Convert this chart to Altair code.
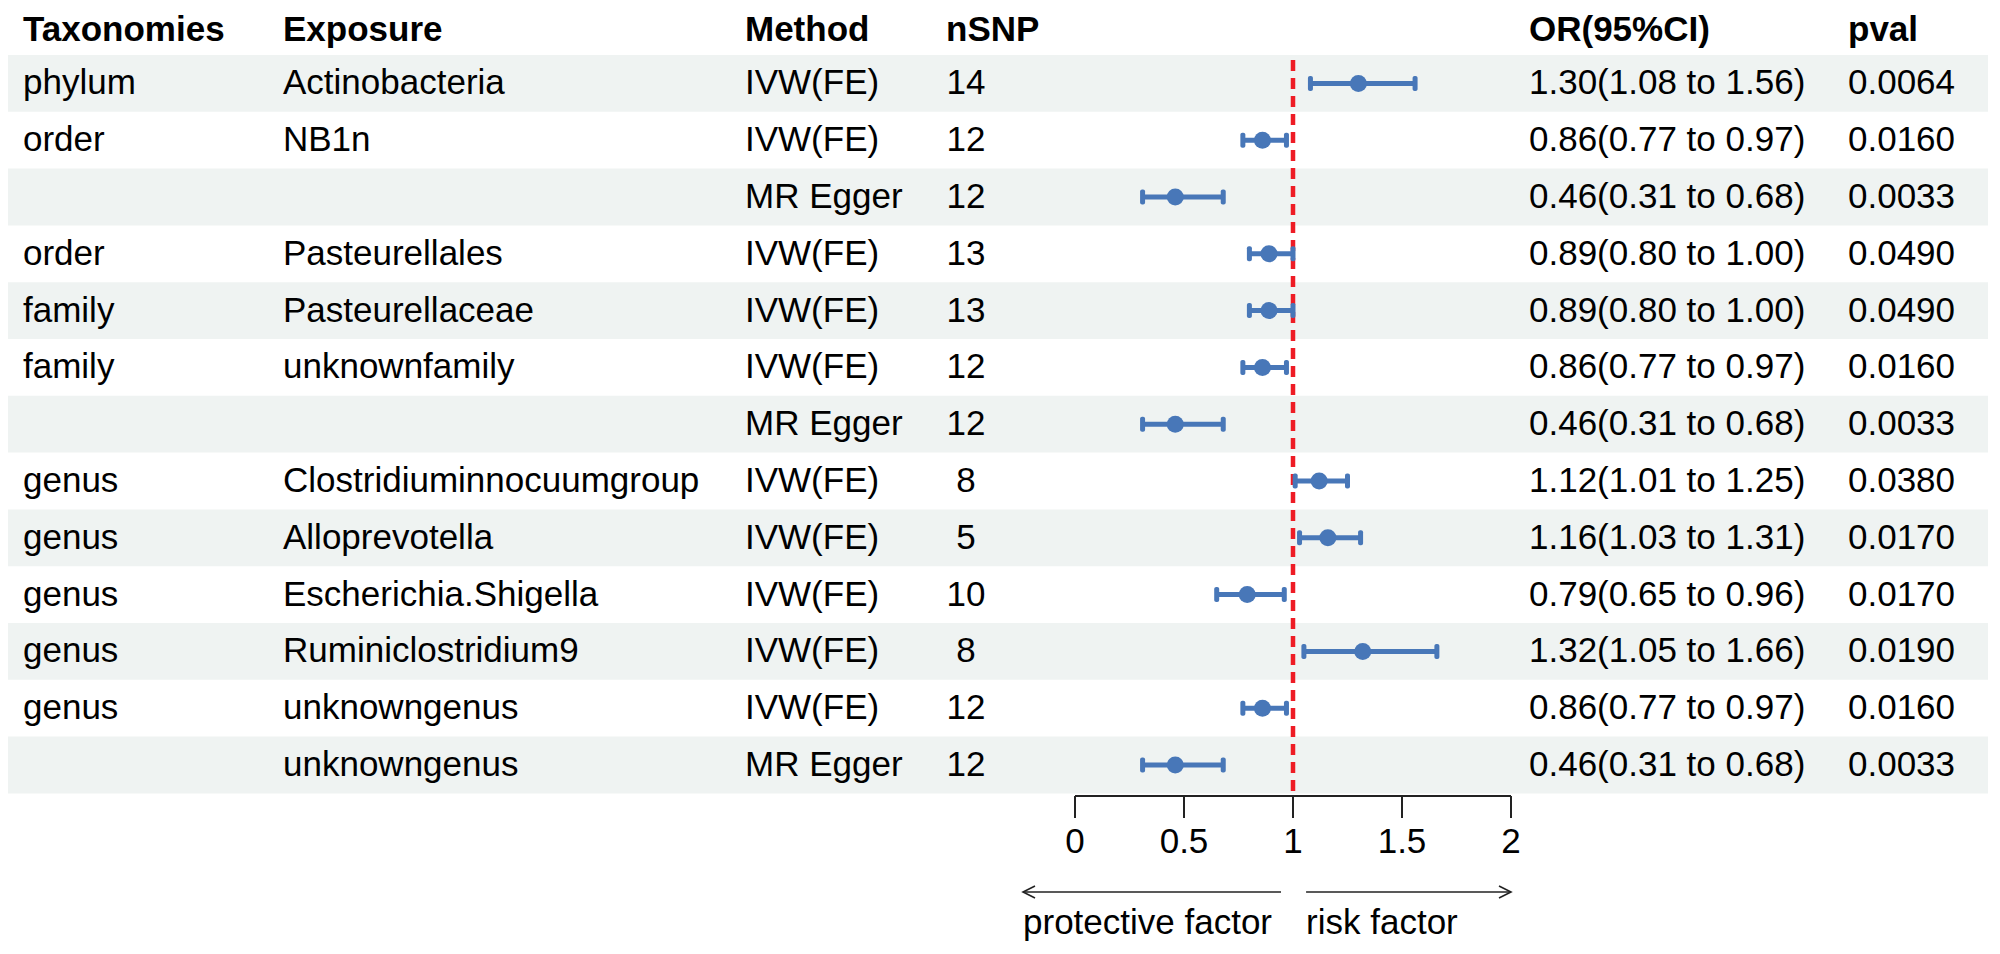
import altair as alt
import pandas as pd

# ---------------- data ----------------
taxonomies = ["phylum", "order", "", "order", "family", "family", "", "genus",
              "genus", "genus", "genus", "genus", ""]
exposures = ["Actinobacteria", "NB1n", "", "Pasteurellales", "Pasteurellaceae",
             "unknownfamily", "", "Clostridiuminnocuumgroup", "Alloprevotella",
             "Escherichia.Shigella", "Ruminiclostridium9", "unknowngenus", "unknowngenus"]
methods = ["IVW(FE)", "IVW(FE)", "MR Egger", "IVW(FE)", "IVW(FE)", "IVW(FE)",
           "MR Egger", "IVW(FE)", "IVW(FE)", "IVW(FE)", "IVW(FE)", "IVW(FE)", "MR Egger"]
nsnp = [14, 12, 12, 13, 13, 12, 12, 8, 5, 10, 8, 12, 12]
or_est = [1.30, 0.86, 0.46, 0.89, 0.89, 0.86, 0.46, 1.12, 1.16, 0.79, 1.32, 0.86, 0.46]
or_lo = [1.08, 0.77, 0.31, 0.80, 0.80, 0.77, 0.31, 1.01, 1.03, 0.65, 1.05, 0.77, 0.31]
or_hi = [1.56, 0.97, 0.68, 1.00, 1.00, 0.97, 0.68, 1.25, 1.31, 0.96, 1.66, 0.97, 0.68]
pvals = ["0.0064", "0.0160", "0.0033", "0.0490", "0.0490", "0.0160", "0.0033",
         "0.0380", "0.0170", "0.0170", "0.0190", "0.0160", "0.0033"]
headers = ["Taxonomies", "Exposure", "Method", "nSNP", "OR(95%CI)", "pval"]
tick_values = [0, 0.5, 1, 1.5, 2]
tick_labels = ["0", "0.5", "1", "1.5", "2"]
ref_value = 1.0
arrow_labels = ["protective factor", "risk factor"]

# ---------------- layout ----------------
W, H = 1980, 934
FONT = "Liberation Sans"
FS = 35
BLUE = "#4877B8"
RED = "#EE1C25"
BAND = "#eff3f2"
TOP = 47.0          # pixel top of first row
ROWH = 56.8         # pixel height of one row
X0PX, PXU = 1067.0, 218.0   # pixel of OR=0 and pixels per OR unit

XS = alt.Scale(domain=[-X0PX / PXU, (W - X0PX) / PXU], nice=False, zero=False)
YS = alt.Scale(domain=[-TOP / ROWH, (H - TOP) / ROWH], nice=False, zero=False, reverse=True)

n = len(exposures)
df = pd.DataFrame({
    "row": list(range(n)),
    "tax": taxonomies,
    "exposure": exposures,
    "method": methods,
    "nsnp": [str(v) for v in nsnp],
    "est": or_est,
    "lo": or_lo,
    "hi": or_hi,
    "ortext": [f"{e:.2f}({l:.2f} to {h:.2f})" for e, l, h in zip(or_est, or_lo, or_hi)],
    "pval": pvals,
})
df["r"] = df["row"] + 0.5
df["r0"] = df["row"]
df["r1"] = df["row"] + 1

base = alt.Chart(df)
Y = alt.Y("r:Q", scale=YS, axis=None)

bands = base.transform_filter("datum.row % 2 == 0").mark_rect(color=BAND).encode(
    x=alt.value(0), x2=alt.value(W),
    y=alt.Y("r0:Q", scale=YS, axis=None), y2="r1:Q")

layers = [bands]

col_px = {"tax": 15, "exposure": 275, "method": 737, "ortext": 1521, "pval": 1840}
for field, px in col_px.items():
    layers.append(base.mark_text(align="left", baseline="middle", font=FONT,
                                 fontSize=FS, color="black").encode(
        x=alt.value(px), y=Y, text=f"{field}:N"))
layers.append(base.mark_text(align="center", baseline="middle", font=FONT,
                             fontSize=FS, color="black").encode(
    x=alt.value(958), y=Y, text="nsnp:N"))

head_px = [15, 275, 737, 938, 1521, 1840]
for h, px in zip(headers, head_px):
    layers.append(alt.Chart(pd.DataFrame({"h": [h]})).mark_text(
        align="left", baseline="middle", font=FONT, fontSize=FS,
        fontWeight="bold", color="black").encode(
        x=alt.value(px), y=alt.value(21.5), text="h:N"))

# reference line
ref = alt.Chart(pd.DataFrame({"ref": [ref_value]})).mark_rule(
    color=RED, strokeWidth=4.5, strokeDash=[11, 7]).encode(
    x=alt.X("ref:Q", scale=XS, axis=None), y=alt.value(52), y2=alt.value(787))
layers.append(ref)

# CIs
layers.append(base.mark_rule(color=BLUE, strokeWidth=5).encode(
    x=alt.X("lo:Q", scale=XS, axis=None), x2="hi:Q", y=Y))
layers.append(base.transform_fold(["lo", "hi"], as_=["k", "v"]).mark_tick(
    orient="vertical", size=15, thickness=5, color=BLUE, opacity=1, cornerRadius=2).encode(
    x=alt.X("v:Q", scale=XS, axis=None), y=Y))
layers.append(base.mark_circle(size=290, color=BLUE, opacity=1).encode(
    x=alt.X("est:Q", scale=XS, axis=None), y=Y))

# x axis drawn by hand
ticks = pd.DataFrame({"t": tick_values, "lab": tick_labels})
layers.append(alt.Chart(pd.DataFrame({"a": [min(tick_values)], "b": [max(tick_values)]})).mark_rule(
    color="#222222", strokeWidth=2).encode(
    x=alt.X("a:Q", scale=XS, axis=None), x2="b:Q", y=alt.value(788)))
layers.append(alt.Chart(ticks).mark_rule(color="#222222", strokeWidth=2).encode(
    x=alt.X("t:Q", scale=XS, axis=None), y=alt.value(788), y2=alt.value(810)))
layers.append(alt.Chart(ticks).mark_text(align="center", baseline="middle", font=FONT,
                                         fontSize=FS, color="black").encode(
    x=alt.X("t:Q", scale=XS, axis=None), y=alt.value(833.5), text="lab:N"))

# arrows
arrows = pd.DataFrame({"a": [-0.2385, 1.06], "b": [0.945, 2.0],
                       "lab": arrow_labels})
layers.append(alt.Chart(arrows).mark_rule(color="#222222", strokeWidth=1.6).encode(
    x=alt.X("a:Q", scale=XS, axis=None), x2="b:Q", y=alt.value(884)))
layers.append(alt.Chart(arrows.iloc[[0]]).mark_point(
    shape="M 1 -0.5 L 0 0 L 1 0.5", size=576, filled=False, color="#222222",
    strokeWidth=1.6, opacity=1).encode(
    x=alt.X("a:Q", scale=XS, axis=None), y=alt.value(884)))
layers.append(alt.Chart(arrows.iloc[[1]]).mark_point(
    shape="M -1 -0.5 L 0 0 L -1 0.5", size=576, filled=False, color="#222222",
    strokeWidth=1.6, opacity=1).encode(
    x=alt.X("b:Q", scale=XS, axis=None), y=alt.value(884)))
layers.append(alt.Chart(arrows).mark_text(align="left", baseline="middle", font=FONT,
                                          fontSize=FS, color="black").encode(
    x=alt.X("a:Q", scale=XS, axis=None), y=alt.value(914.5), text="lab:N"))

chart = alt.layer(*layers).properties(
    width=W, height=H, padding=0, autosize=alt.AutoSizeParams(type="none")
).configure_view(stroke=None)

chart.save("out.html", embed_options={"renderer": "svg", "actions": False})
